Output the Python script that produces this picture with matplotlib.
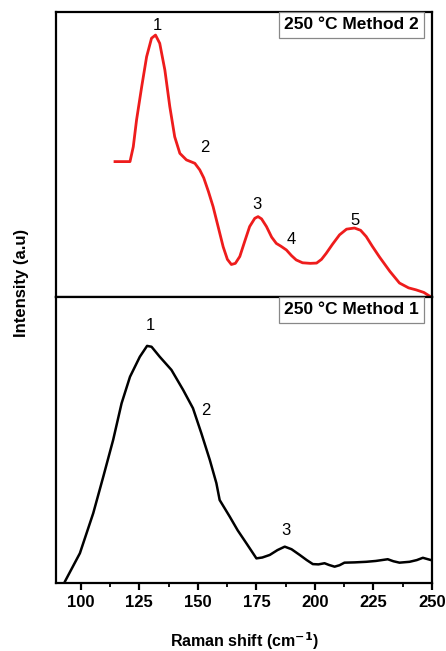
import numpy as np
import matplotlib.pyplot as plt
from matplotlib.ticker import MultipleLocator

plt.rcParams['font.family'] = ['Liberation Sans', 'DejaVu Sans']
plt.rcParams['font.weight'] = 'bold'

# Method 2 (red, upper panel)
shift_m2 = [114.6, 121.0, 122.4, 123.8, 126.0, 128.1, 130.2, 131.9, 133.7, 135.9, 138.0,
            140.1, 142.3, 145.1, 148.7, 150.8, 152.5, 154.5, 156.5, 158.7, 160.8, 162.6,
            164.3, 166.0, 167.9, 170.0, 172.1, 174.3, 175.7, 177.2, 179.3, 181.5, 183.5,
            185.5, 187.8, 190.0, 192.0, 194.7, 198.0, 200.7, 202.8, 204.8, 207.5, 210.5,
            213.5, 216.9, 219.5, 221.9, 224.5, 227.6, 232.0, 236.1, 240.0, 243.2, 246.5, 249.6]
int_m2 = [47.5, 47.5, 52.7, 62.1, 73.8, 84.3, 90.8, 91.9, 89.0, 79.6, 66.8,
          56.2, 50.4, 48.1, 46.9, 44.6, 41.8, 37.0, 31.7, 24.5, 17.6, 13.2,
          11.4, 11.8, 14.2, 19.5, 24.7, 27.6, 28.2, 27.4, 24.7, 21.0, 18.8,
          17.8, 16.5, 14.5, 13.0, 12.0, 11.8, 11.9, 13.2, 15.3, 18.5, 21.8,
          23.8, 24.2, 23.4, 21.2, 17.8, 14.0, 9.0, 4.9, 3.2, 2.5, 1.6, 0.0]

# Method 1 (black, lower panel)
shift_m1 = [92.0, 93.2, 99.6, 105.3, 109.6, 113.8, 117.4, 121.0, 125.2, 128.3, 130.2,
            133.7, 138.7, 143.7, 147.9, 151.5, 155.1, 157.9, 159.3, 163.6, 167.0, 170.7,
            175.0, 177.5, 180.7, 184.0, 187.1, 190.0, 193.5, 196.5, 199.1, 201.5, 204.1,
            206.0, 208.4, 210.5, 212.6, 217.0, 221.9, 226.0, 231.1, 233.5, 236.1, 240.4,
            243.5, 246.1, 249.6]
int_m1 = [-2.0, 0.5, 10.4, 24.4, 37.2, 50.0, 62.8, 72.1, 79.1, 82.9, 82.6,
          79.1, 74.5, 67.5, 61.1, 52.3, 43.0, 34.9, 29.0, 23.2, 18.4, 13.9,
          8.6, 8.9, 9.8, 11.5, 12.7, 11.8, 9.8, 8.0, 6.6, 6.5, 6.9,
          6.3, 5.7, 6.2, 7.1, 7.2, 7.4, 7.7, 8.3, 7.6, 7.1, 7.4,
          8.0, 8.8, 8.0]

peaks_m2 = [(132.8, 95.4, '1'), (153.0, 52.3, '2'), (175.1, 32.3, '3'),
            (190.0, 20.0, '4'), (217.3, 27.0, '5')]
peaks_m1 = [(129.8, 90.2, '1'), (153.3, 60.2, '2'), (187.8, 18.5, '3')]

fig = plt.figure(figsize=(4.46, 6.51), dpi=100)
ax_top = fig.add_axes([0.1256, 0.5438, 0.843, 0.4378])
ax_bot = fig.add_axes([0.1256, 0.1045, 0.843, 0.4393], sharex=ax_top)

ax_top.plot(shift_m2, int_m2, color='#ee1c1c', lw=2.0, clip_on=False,
            solid_joinstyle='round')
ax_bot.plot(shift_m1, int_m1, color='black', lw=1.8, solid_joinstyle='round')

for ax in (ax_top, ax_bot):
    ax.set_ylim(0, 100)
    ax.set_yticks([])
    for s in ax.spines.values():
        s.set_linewidth(1.6)

ax_top.set_xlim(89.4, 250)
ax_top.tick_params(axis='x', which='both', bottom=False, labelbottom=False)

ax_bot.xaxis.set_major_locator(MultipleLocator(25))
ax_bot.xaxis.set_minor_locator(MultipleLocator(12.5))
ax_bot.tick_params(axis='x', which='major', direction='out', length=5, width=1.6,
                   labelsize=12, pad=4)
ax_bot.tick_params(axis='x', which='minor', direction='out', length=3, width=1.3)
for lbl in ax_bot.get_xticklabels():
    lbl.set_fontweight('bold')

for x, y, t in peaks_m2:
    ax_top.text(x, y, t, ha='center', va='center', fontsize=12, fontweight='normal')
for x, y, t in peaks_m1:
    ax_bot.text(x, y, t, ha='center', va='center', fontsize=12, fontweight='normal')

box = dict(boxstyle='square,pad=0.3', facecolor='white', edgecolor='#888888', lw=0.9)
ax_top.text(0.965, 0.955, '250 °C Method 2', transform=ax_top.transAxes, ha='right',
            va='center', fontsize=12.5, fontweight='bold', bbox=box)
ax_bot.text(0.965, 0.955, '250 °C Method 1', transform=ax_bot.transAxes, ha='right',
            va='center', fontsize=12.5, fontweight='bold', bbox=box)

ax_bot.set_xlabel('Raman shift (cm$^{\\mathbf{-1}}$)', fontsize=11.5, fontweight='bold',
                  labelpad=14)
fig.text(0.048, 0.565, 'Intensity (a.u)', rotation=90, ha='center', va='center',
         fontsize=12, fontweight='bold')

fig.savefig('out.png', dpi=100)
